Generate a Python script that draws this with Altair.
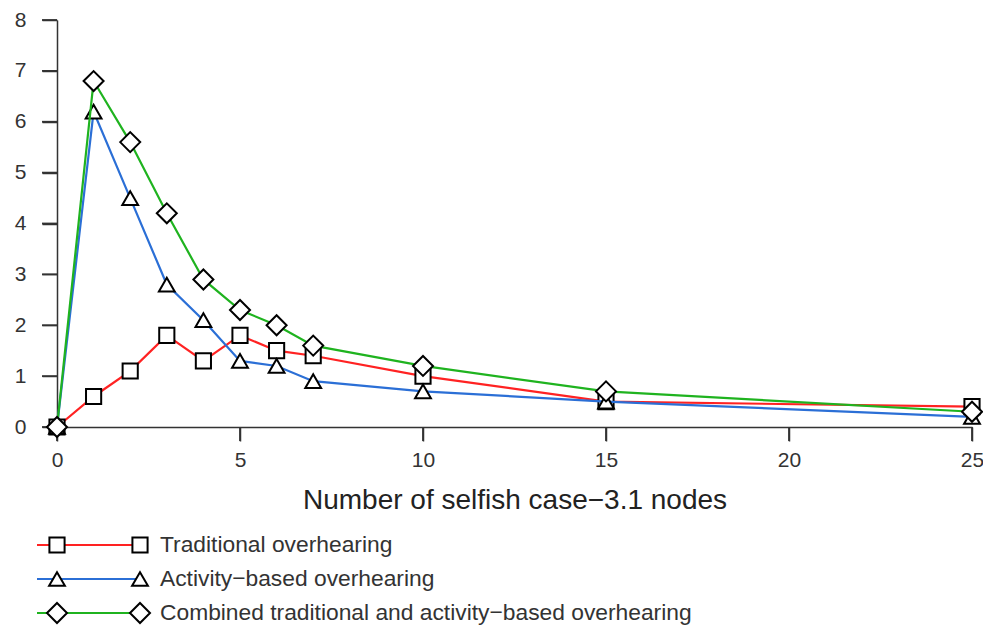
import altair as alt
import pandas as pd

x_vals = [0, 1, 2, 3, 4, 5, 6, 7, 10, 15, 25]
traditional = [0, 0.6, 1.1, 1.8, 1.3, 1.8, 1.5, 1.4, 1.0, 0.5, 0.4]
activity = [0, 6.2, 4.5, 2.8, 2.1, 1.3, 1.2, 0.9, 0.7, 0.5, 0.2]
combined = [0, 6.8, 5.6, 4.2, 2.9, 2.3, 2.0, 1.6, 1.2, 0.7, 0.3]

series_names = [
    "Traditional overhearing",
    "Activity\u2212based overhearing",
    "Combined traditional and activity\u2212based overhearing",
]
series_colors = ["#ff2222", "#2b6fd6", "#1fb31f"]
series_shapes = ["square", "triangle-up", "diamond"]
series_sizes = [230, 250, 400]
x_ticks = [0, 5, 10, 15, 20, 25]
y_ticks = [0, 1, 2, 3, 4, 5, 6, 7, 8]
x_title = "Number of selfish case\u22123.1 nodes"

rows = []
for name, ys in zip(series_names, [traditional, activity, combined]):
    for xv, yv in zip(x_vals, ys):
        rows.append({"series": name, "x": xv, "y": yv})
df = pd.DataFrame(rows)

leg = pd.DataFrame({"series": series_names, "row": [0, 1, 2]})
xt = pd.DataFrame({"x": x_ticks})
yt = pd.DataFrame({"y": y_ticks})

FONT = "Liberation Sans"
W, H = 915, 407
XT, YT = 14, 15

xscale = alt.Scale(domain=[0, 25], nice=False, zero=False)
yscale = alt.Scale(domain=[0, 8], nice=False, zero=False)
xaxis = alt.Axis(values=x_ticks, tickSize=XT, labelPadding=8,
                 titleFontSize=28, titlePadding=16)
yaxis = alt.Axis(values=y_ticks, tickSize=YT, labelPadding=16, title=None)

X = alt.X("x:Q", scale=xscale, axis=xaxis, title=x_title)
Y = alt.Y("y:Q", scale=yscale, axis=yaxis)

# tick marks drawn from the tick values through the scales
xtick = alt.Chart(xt).mark_rule(color="#333", strokeWidth=1.8, opacity=1).encode(
    x=X, y=alt.value(H), y2=alt.value(H + XT))
ytick = alt.Chart(yt).mark_rule(color="#333", strokeWidth=1.8, opacity=1).encode(
    y=Y, x=alt.value(-YT), x2=alt.value(0))

layers = []
for i, (name, col, shp, sz) in enumerate(zip(series_names, series_colors, series_shapes, series_sizes)):
    base = alt.Chart(df).transform_filter(alt.datum.series == name)
    line = base.mark_line(color=col, strokeWidth=2.2).encode(x=X, y=Y)
    pts = base.mark_point(shape=shp, size=sz, filled=True, fill="white",
                          stroke="black", strokeWidth=2, opacity=1).encode(x=X, y=Y)
    layers += [line, pts]
layers = [xtick, ytick] + layers

plot = alt.layer(*layers)

# legend drawn below the plot
lyscale = alt.Scale(domain=[0, 2], range=[525, 593], nice=False, zero=False)
LY = alt.Y("row:Q", scale=lyscale, axis=None)
leg_layers = []
for i, (name, col, shp, sz) in enumerate(zip(series_names, series_colors, series_shapes, series_sizes)):
    lb = alt.Chart(leg).transform_filter(alt.datum.series == name)
    leg_layers.append(lb.mark_rule(color=col, strokeWidth=2.2).encode(
        x=alt.value(-20), x2=alt.value(83), y=LY))
    for px in [0, 83]:
        leg_layers.append(lb.mark_point(shape=shp, size=sz, filled=True, fill="white",
                                        stroke="black", strokeWidth=2, opacity=1).encode(
            x=alt.value(px), y=LY))
    leg_layers.append(lb.mark_text(align="left", baseline="middle", font=FONT,
                                   fontSize=22.8, color="#333").encode(
        x=alt.value(103), y=LY, text="series:N"))

legend = alt.layer(*leg_layers)

chart = alt.layer(plot, legend).resolve_scale(y="independent").properties(
    width=W, height=H,
    background="white",
    autosize=alt.AutoSizeParams(type="none"),
    padding={"left": 49, "top": 12, "right": 11, "bottom": 198},
).configure_view(stroke=None).configure_axis(
    grid=False, ticks=True, tickColor="#333", tickWidth=1.5,
    domainColor="#333", domainWidth=1.5, labelColor="#333",
    labelFont=FONT, labelFontSize=21, labelFlush=False, labelOverlap=False,
    titleFont=FONT, titleFontWeight="normal", titleColor="#222",
)

chart.save("out.html", embed_options={"renderer": "svg", "actions": False})
